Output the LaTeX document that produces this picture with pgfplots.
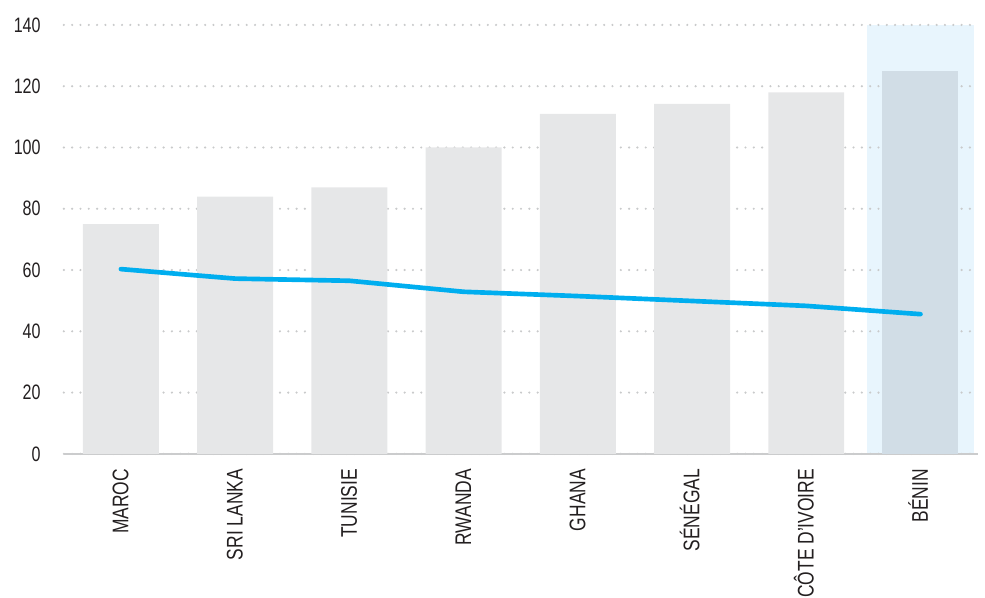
\documentclass[border=0pt]{standalone}
\usepackage{pgfplots}
\pgfplotsset{compat=1.18}
\usepackage{fontspec}
\setmainfont[FakeStretch=0.77]{Liberation Sans}

\definecolor{bargray}{HTML}{E6E7E8}
\definecolor{barhi}{HTML}{D1DDE6}
\definecolor{bandhi}{HTML}{E8F5FD}
\definecolor{linecyan}{HTML}{00AEEF}
\definecolor{gridgray}{HTML}{C9CACB}
\definecolor{axisgray}{HTML}{CBCCCD}
\definecolor{labeltext}{HTML}{231F20}

\begin{document}
\begin{tikzpicture}
\begin{axis}[
  set layers=standard,
  scale only axis,
  width=687pt, height=322.5pt,
  xmin=-0.5, xmax=7.5,
  ymin=0, ymax=140,
  axis x line*=bottom,
  axis y line*=left,
  x axis line style={draw=axisgray, line width=1.5pt},
  y axis line style={draw=none},
  xtick={0,...,7},
  xticklabels={MAROC, SRI LANKA, TUNISIE, RWANDA, GHANA, SÉNÉGAL, CÔTE D’IVOIRE, BÉNIN},
  x tick style={draw=none},
  xticklabel style={xshift=2pt, rotate=90, anchor=east, inner sep=0pt,
    text height=0.72em, text depth=0pt,
    font=\fontsize{17}{20}\selectfont, text=labeltext},
  xticklabel shift=11.25pt,
  extra x ticks={-0.5,0.5,1.5,2.5,3.5,4.5,5.5,6.5,7.5},
  extra x tick labels={},
  extra x tick style={
    tick style={draw=axisgray, line width=1.2pt},
    major tick length=6.75pt, tick align=inside},
  ytick={0,20,...,140},
  y tick style={draw=none},
  yticklabel style={anchor=east, inner sep=0pt, xshift=-17.25pt,
    font=\fontsize{15.7}{18}\selectfont, text=labeltext},
  /pgf/number format/assume math mode=true,
  ymajorgrids,
  major grid style={draw=gridgray, line width=1.8pt, line cap=round,
    dash pattern=on 0pt off 6.25pt},
  clip=false,
]
% highlighted column behind the last bar
\addplot[on layer=axis background, fill=bandhi, draw=none]
  coordinates {(6.535,0) (7.465,0) (7.465,140) (6.535,140)} -- cycle;

% bars
\addplot[ybar, bar width=0.665, fill=bargray, draw=none]
  coordinates {(0,75) (1,84) (2,87) (3,100) (4,111) (5,114.2) (6,118)};
\addplot[ybar, bar width=0.665, fill=barhi, draw=none]
  coordinates {(7,125)};

% line series
\addplot[sharp plot, linecyan, line width=3.5pt, line cap=round, line join=round, mark=none]
  coordinates {(0,60.3) (1,57.2) (2,56.5) (3,52.9) (4,51.5) (5,49.9) (6,48.3) (7,45.6)};
\end{axis}
% fixed frame of the whole figure
\path (current axis.south west) ++(-48pt,-108pt) coordinate (bbsw);
\path (current axis.north east) ++(3.75pt,18.75pt) coordinate (bbne);
\path[use as bounding box] (bbsw) rectangle (bbne);
\end{tikzpicture}
\end{document}
